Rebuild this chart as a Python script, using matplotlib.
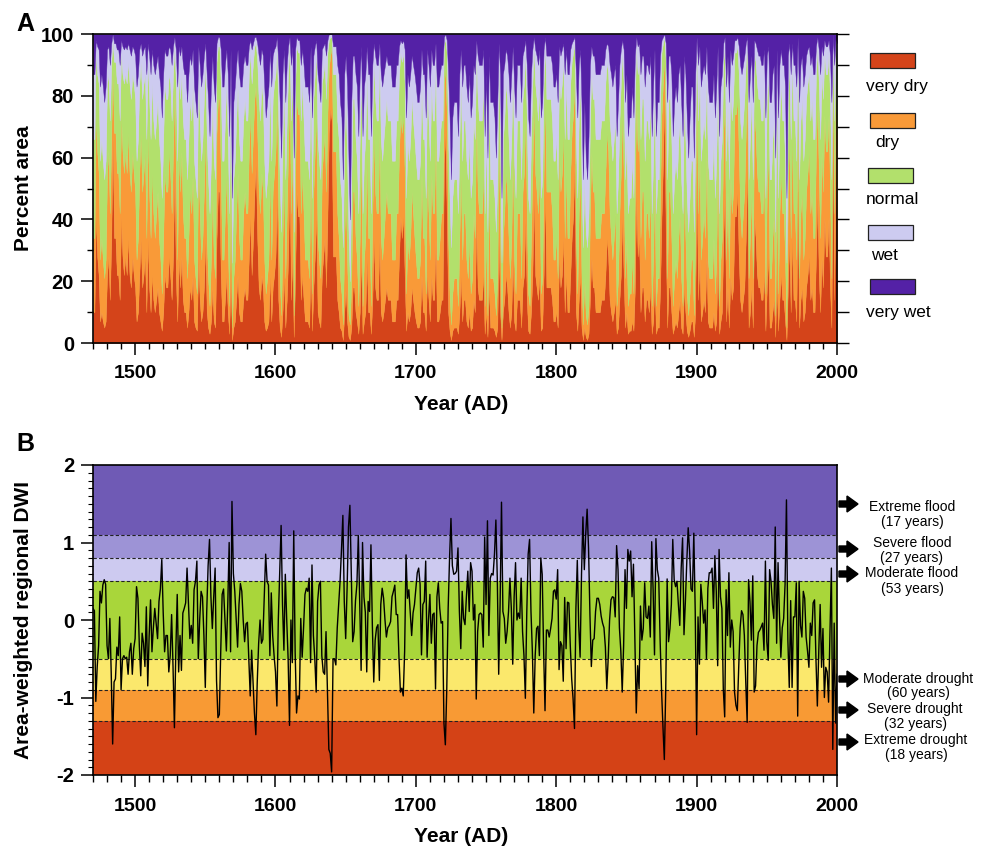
import numpy as np
import matplotlib
matplotlib.use('Agg')
import matplotlib.pyplot as plt
from matplotlib.patches import Rectangle, FancyArrow
from matplotlib.ticker import MultipleLocator

plt.rcParams['font.family'] = ['Liberation Sans', 'DejaVu Sans']
plt.rcParams['font.weight'] = 'bold'
plt.rcParams['axes.unicode_minus'] = False

START_YEAR = 1470

# Area-weighted regional DWI, one value per year (1470-2000), decade rows
dwi = [
    0.15, 0.12, -1.05, -0.6, -0.33, 0.37, 0.22, 0.45, 0.52, 0.46,
    -0.33, -0.5, 0.02, -0.7, -1.6, -0.8, -0.76, -0.35, -0.46, 0.04,
    -0.9, -0.5, -0.46, -0.5, -0.48, -0.7, -0.41, -0.3, -0.7, -0.37,
    -0.24, 0.43, 0.28, -0.33, -0.72, -0.17, -0.3, -0.6, 0.17, -0.85,
    -0.2, 0.26, -0.41, -0.1, 0.15, -0.05, -0.24, 0.24, 0.4, 0.78,
    0.1, -0.41, -0.2, -0.2, -0.67, -0.46, 0.07, -0.6, -1.39, -0.4,
    0.33, -0.67, -0.2, -0.65, 0.09, 0.15, 0.22, 0.67, 0.2, -0.24,
    -0.07, -0.3, 0.39, 0.5, 0.76, -0.5, 0.0, 0.37, 0.3, -0.2,
    -0.87, 0.1, 0.7, 1.04, 0.3, -0.11, 0.3, 0.67, -0.78, -1.26,
    -1.22, -0.4, 0.33, 0.4, 0.0, -0.4, 0.2, 1.0, -0.41, 1.53,
    0.6, 0.37, 0.0, -0.35, 0.2, 0.47, 0.37, 0.0, -0.28, -0.05,
    -0.03, -0.5, -0.98, -0.39, -0.8, -1.2, -1.48, -0.8, -0.3, 0.0,
    -0.3, -0.25, 0.3, 0.85, 0.5, 0.45, -0.46, 0.35, -0.2, -0.46,
    -0.67, -1.11, 0.0, 0.6, 1.22, 0.2, -0.39, 0.59, 0.0, -0.5,
    -1.36, 0.0, -0.55, 1.15, -0.41, -1.2, -0.98, -1.02, 0.02, -0.48,
    -0.1, 0.33, 0.41, 0.37, 0.54, -0.55, 0.71, -0.2, -0.5, -0.93,
    0.24, 0.45, 0.5, -0.46, -0.67, -0.7, -0.15, -0.9, -1.67, -1.72,
    -1.96, -0.5, -0.5, -0.58, -0.1, 0.2, 0.5, 0.9, 1.35, 0.24,
    -0.24, 0.4, 1.2, 1.48, 0.6, -0.28, -0.15, 0.25, 0.46, 1.09,
    0.2, -0.65, 1.0, 0.3, 0.1, -0.67, 0.24, 0.11, 0.97, -0.07,
    -0.8, -0.26, -0.1, -0.06, -0.78, 0.2, 0.41, 0.28, 0.0, -0.22,
    -0.1, -0.07, -0.02, 0.3, 0.37, 0.45, 0.07, 0.07, -0.5, -0.93,
    -0.88, -0.98, -0.4, 0.84, 0.28, 0.39, 0.1, -0.2, 0.09, 0.2,
    0.41, 0.61, 0.67, 0.46, -0.45, 0.2, 0.24, 0.76, -0.48, 0.0,
    0.33, -0.3, 0.07, 0.09, -0.89, 0.3, 0.48, 0.15, -0.04, -0.02,
    -1.33, -1.61, -0.9, 0.15, 0.8, 1.31, 0.7, 0.59, 0.6, 0.63,
    0.93, 0.11, -0.37, 0.37, 0.02, -0.06, 0.3, 0.63, 0.11, 0.74,
    0.63, 0.0, 0.2, -1.02, -0.15, 0.07, 0.09, 0.07, -0.35, 1.07,
    0.2, 1.28, -0.2, 0.54, 0.6, 0.58, 0.85, 1.29, 0.54, -0.7,
    0.2, 1.52, 0.11, 0.02, -0.3, -0.15, 0.11, 0.54, 0.15, -0.57,
    0.3, 0.74, 0.0, 0.09, 0.02, 0.54, -0.15, -0.46, -1.01, 0.09,
    0.85, 1.04, 0.11, -0.41, -1.2, -0.46, -0.11, -0.08, -0.46, 0.8,
    0.59, -0.39, -1.17, -0.13, -0.13, -0.22, -0.11, 0.02, 0.37, 0.39,
    0.27, 0.65, -0.64, -0.28, -0.33, -0.79, 0.29, -0.37, 0.23, 0.22,
    -0.33, -0.76, -1.02, -1.4, 0.15, 0.77, -0.07, -0.48, 0.59, 1.33,
    0.65, 1.11, 1.43, 0.93, 0.07, -0.6, -0.26, -0.24, 0.11, 0.28,
    0.28, 0.2, 0.05, -0.04, -0.1, -0.35, -0.89, -0.5, 0.0, 0.26,
    0.3, 0.29, 0.04, 0.96, 0.65, -0.1, -0.4, -0.93, -0.33, 0.65,
    0.15, 0.91, 0.76, 0.89, 0.3, 0.72, -0.24, -1.2, -0.59, -0.89,
    0.18, -0.26, -0.11, 0.48, 0.04, 0.02, 0.18, -0.22, 1.01, 0.39,
    -0.45, 1.05, 0.65, 0.54, -0.26, -0.9, -1.37, -1.8, -0.89, 0.53,
    -0.28, -0.11, 0.2, 1.04, 0.52, 0.43, 0.5, 0.2, -0.07, 0.67,
    1.06, -0.19, 0.24, 0.76, 1.19, 0.89, 0.4, 0.37, 1.12, 0.11,
    -1.48, 0.04, -0.57, 0.46, 0.24, -0.04, 0.13, -0.5, 0.41, 0.61,
    0.61, 0.67, 0.15, 0.83, 0.37, -0.59, 0.91, 0.3, 0.15, -0.89,
    -1.25, 0.39, -0.2, 0.61, -0.35, 0.0, -0.15, -0.93, -1.1, -1.17,
    -0.6, -0.1, 0.12, 0.07, -0.2, -0.8, -1.32, 0.52, 0.24, -0.26,
    0.57, -0.93, -0.85, -0.33, -0.16, -0.13, -0.09, -0.04, -0.39, 0.76,
    -0.28, -0.52, 0.65, 0.5, 0.2, 0.02, 1.2, -0.3, 0.74, 0.07,
    -0.48, -0.1, 0.02, 0.46, 1.55, -0.26, -0.87, 0.25, -0.87, 0.04,
    0.04, 0.48, -1.24, 0.5, -0.07, -0.22, 0.37, 0.28, -0.22, -0.4,
    -0.61, -0.04, -0.2, 0.22, 0.26, -0.5, -1.11, -0.41, 0.2, -0.61,
    -0.11, -1.0, -0.61, -0.67, -1.06, -0.15, 0.67, -1.67, -0.04, -1.33,
    -0.7,
]

# Percent area per class (normal = remainder to 100), decade rows
very_dry = [
    10, 10, 41, 28, 22, 7, 10, 7, 5, 7,
    22, 28, 14, 34, 68, 34, 34, 22, 22, 14,
    41, 28, 22, 28, 22, 34, 22, 18, 28, 22,
    18, 7, 10, 22, 34, 18, 22, 28, 10, 34,
    18, 10, 22, 14, 10, 14, 18, 10, 7, 4,
    10, 22, 18, 18, 28, 22, 14, 28, 58, 22,
    7, 28, 18, 28, 14, 10, 10, 5, 10, 18,
    14, 22, 7, 5, 4, 28, 14, 7, 10, 18,
    34, 10, 5, 3, 7, 18, 7, 5, 34, 49,
    49, 22, 7, 7, 14, 22, 10, 3, 22, 1,
    5, 7, 14, 22, 10, 7, 7, 14, 18, 14,
    14, 28, 41, 22, 34, 49, 58, 34, 18, 14,
    22, 18, 7, 4, 5, 7, 22, 7, 18, 22,
    28, 49, 14, 5, 2, 10, 22, 5, 14, 28,
    58, 14, 28, 2, 22, 49, 41, 41, 14, 22,
    14, 7, 7, 7, 5, 28, 4, 18, 28, 41,
    10, 7, 5, 22, 28, 34, 18, 41, 68, 76,
    72, 28, 28, 28, 14, 10, 5, 4, 1, 10,
    18, 7, 2, 1, 5, 18, 18, 10, 7, 3,
    10, 28, 3, 7, 10, 28, 10, 10, 3, 14,
    34, 18, 14, 14, 34, 10, 7, 10, 14, 18,
    14, 14, 14, 7, 7, 7, 14, 14, 28, 41,
    34, 41, 22, 4, 10, 7, 10, 18, 14, 10,
    7, 5, 5, 7, 22, 10, 10, 4, 22, 14,
    7, 22, 14, 14, 34, 7, 7, 10, 14, 14,
    58, 68, 41, 10, 4, 1, 4, 5, 5, 5,
    3, 10, 22, 7, 14, 14, 7, 5, 10, 4,
    5, 14, 10, 41, 18, 14, 14, 14, 22, 3,
    10, 2, 18, 5, 5, 5, 4, 2, 5, 34,
    10, 1, 10, 14, 22, 18, 10, 5, 10, 28,
    7, 4, 14, 14, 14, 5, 18, 22, 41, 14,
    4, 3, 10, 22, 49, 22, 18, 14, 22, 4,
    5, 22, 49, 18, 18, 18, 18, 14, 7, 7,
    10, 5, 28, 18, 22, 34, 10, 22, 10, 10,
    22, 34, 41, 58, 10, 4, 14, 22, 5, 1,
    5, 2, 1, 3, 14, 28, 18, 18, 10, 10,
    10, 10, 14, 14, 14, 22, 34, 28, 14, 10,
    7, 10, 14, 3, 5, 14, 22, 41, 22, 5,
    10, 3, 4, 4, 7, 4, 18, 49, 28, 34,
    10, 18, 18, 7, 14, 14, 10, 18, 3, 7,
    22, 3, 5, 5, 18, 41, 58, 80, 34, 5,
    18, 18, 10, 3, 5, 7, 5, 10, 14, 5,
    3, 18, 10, 4, 2, 4, 7, 7, 2, 10,
    58, 14, 28, 7, 10, 14, 10, 28, 7, 5,
    5, 5, 10, 4, 7, 28, 3, 7, 10, 34,
    49, 7, 18, 5, 22, 14, 18, 41, 41, 49,
    28, 14, 10, 14, 18, 34, 58, 5, 10, 18,
    5, 41, 34, 22, 18, 18, 14, 14, 22, 4,
    18, 28, 5, 5, 10, 14, 2, 22, 4, 14,
    22, 14, 14, 7, 1, 18, 34, 10, 34, 14,
    14, 7, 49, 5, 14, 18, 7, 10, 18, 22,
    28, 14, 18, 10, 10, 28, 49, 22, 10, 28,
    18, 41, 28, 28, 41, 18, 5, 68, 14, 58,
    34,
]

dry = [
    24, 24, 33, 34, 33, 20, 24, 20, 16, 20,
    33, 34, 28, 34, 21, 34, 34, 33, 33, 28,
    33, 34, 33, 34, 33, 34, 33, 31, 34, 33,
    31, 20, 24, 33, 34, 31, 33, 34, 24, 34,
    31, 24, 33, 28, 24, 28, 31, 24, 20, 12,
    24, 33, 31, 31, 34, 33, 28, 34, 26, 33,
    20, 34, 31, 34, 28, 24, 24, 16, 24, 31,
    28, 33, 20, 16, 12, 34, 28, 20, 24, 31,
    34, 24, 16, 9, 20, 31, 20, 16, 34, 30,
    30, 33, 20, 20, 28, 33, 24, 9, 33, 4,
    16, 20, 28, 33, 24, 20, 20, 28, 31, 28,
    28, 34, 33, 33, 34, 30, 26, 34, 31, 28,
    33, 31, 20, 12, 16, 20, 33, 20, 31, 33,
    34, 30, 28, 16, 7, 24, 33, 16, 28, 34,
    26, 28, 34, 7, 33, 30, 33, 33, 28, 33,
    28, 20, 20, 20, 16, 34, 12, 31, 34, 33,
    24, 20, 16, 33, 34, 34, 31, 33, 21, 17,
    24, 34, 34, 34, 28, 24, 16, 12, 5, 24,
    31, 20, 7, 5, 16, 31, 31, 24, 20, 9,
    24, 34, 9, 20, 24, 34, 24, 24, 9, 28,
    34, 31, 28, 28, 34, 24, 20, 24, 28, 31,
    28, 28, 28, 20, 20, 20, 28, 28, 34, 33,
    34, 33, 33, 12, 24, 20, 24, 31, 28, 24,
    20, 16, 16, 20, 33, 24, 24, 12, 33, 28,
    20, 33, 28, 28, 34, 20, 20, 24, 28, 28,
    26, 21, 33, 24, 12, 5, 12, 16, 16, 16,
    9, 24, 33, 20, 28, 28, 20, 16, 24, 12,
    16, 28, 24, 33, 31, 28, 28, 28, 33, 9,
    24, 7, 31, 16, 16, 16, 12, 7, 16, 34,
    24, 4, 24, 28, 33, 31, 24, 16, 24, 34,
    20, 12, 28, 28, 28, 16, 31, 33, 33, 28,
    12, 9, 24, 33, 30, 33, 31, 28, 33, 12,
    16, 33, 30, 31, 31, 31, 31, 28, 20, 20,
    24, 16, 34, 31, 33, 34, 24, 33, 24, 24,
    33, 34, 33, 26, 24, 12, 28, 33, 16, 5,
    16, 7, 5, 9, 28, 34, 31, 31, 24, 24,
    24, 24, 28, 28, 28, 33, 34, 34, 28, 24,
    20, 24, 28, 9, 16, 28, 33, 33, 33, 16,
    24, 9, 12, 12, 20, 12, 31, 30, 34, 34,
    24, 31, 31, 20, 28, 28, 24, 31, 9, 20,
    33, 9, 16, 16, 31, 33, 26, 13, 34, 16,
    31, 31, 24, 9, 16, 20, 16, 24, 28, 16,
    9, 31, 24, 12, 7, 12, 20, 20, 7, 24,
    26, 28, 34, 20, 24, 28, 24, 34, 20, 16,
    16, 16, 24, 12, 20, 34, 9, 20, 24, 34,
    30, 20, 31, 16, 33, 28, 31, 33, 33, 30,
    34, 28, 24, 28, 31, 34, 26, 16, 24, 31,
    16, 33, 34, 33, 31, 31, 28, 28, 33, 12,
    31, 34, 16, 16, 24, 28, 7, 33, 12, 28,
    33, 28, 28, 20, 4, 31, 34, 24, 34, 28,
    28, 20, 30, 16, 28, 31, 20, 24, 31, 33,
    34, 28, 31, 24, 24, 34, 30, 33, 24, 34,
    31, 33, 34, 34, 33, 31, 16, 21, 28, 26,
    34,
]

wet = [
    21, 21, 4, 9, 11, 24, 21, 24, 25, 24,
    11, 9, 18, 6, 2, 6, 6, 11, 11, 18,
    4, 9, 11, 9, 11, 6, 11, 14, 9, 11,
    14, 24, 21, 11, 6, 14, 11, 9, 21, 6,
    14, 21, 11, 18, 21, 18, 14, 21, 24, 26,
    21, 11, 14, 14, 9, 11, 18, 9, 2, 11,
    24, 9, 14, 9, 18, 21, 21, 25, 21, 14,
    18, 11, 24, 25, 26, 9, 18, 24, 21, 14,
    6, 21, 25, 25, 24, 14, 24, 25, 6, 3,
    3, 11, 24, 24, 18, 11, 21, 25, 11, 21,
    25, 24, 18, 11, 21, 24, 24, 18, 14, 18,
    18, 9, 4, 11, 6, 3, 2, 6, 14, 18,
    11, 14, 24, 26, 25, 24, 11, 24, 14, 11,
    9, 3, 18, 25, 24, 21, 11, 25, 18, 9,
    2, 18, 9, 24, 11, 3, 4, 4, 18, 11,
    18, 24, 24, 24, 25, 9, 26, 14, 9, 4,
    21, 24, 25, 11, 9, 6, 14, 4, 2, 1,
    1, 9, 9, 9, 18, 21, 25, 26, 22, 21,
    14, 24, 24, 20, 25, 14, 14, 21, 24, 25,
    21, 9, 25, 24, 21, 9, 21, 21, 25, 18,
    6, 14, 18, 18, 6, 21, 24, 21, 18, 14,
    18, 18, 18, 24, 24, 24, 18, 18, 9, 4,
    6, 4, 11, 26, 21, 24, 21, 14, 18, 21,
    24, 25, 25, 24, 11, 21, 21, 26, 11, 18,
    24, 11, 18, 18, 6, 24, 24, 21, 18, 18,
    2, 2, 4, 21, 26, 22, 26, 25, 25, 25,
    25, 21, 11, 24, 18, 18, 24, 25, 21, 26,
    25, 18, 21, 4, 14, 18, 18, 18, 11, 25,
    21, 24, 14, 25, 25, 25, 26, 24, 25, 6,
    21, 21, 21, 18, 11, 14, 21, 25, 21, 9,
    24, 26, 18, 18, 18, 25, 14, 11, 4, 18,
    26, 25, 21, 11, 3, 11, 14, 18, 11, 26,
    25, 11, 3, 14, 14, 14, 14, 18, 24, 24,
    21, 25, 9, 14, 11, 6, 21, 11, 21, 21,
    11, 6, 4, 2, 21, 26, 18, 11, 25, 22,
    25, 24, 22, 25, 18, 9, 14, 14, 21, 21,
    21, 21, 18, 18, 18, 11, 6, 9, 18, 21,
    24, 21, 18, 25, 25, 18, 11, 4, 11, 25,
    21, 25, 26, 26, 24, 26, 14, 3, 9, 6,
    21, 14, 14, 24, 18, 18, 21, 14, 25, 24,
    11, 25, 25, 25, 14, 4, 2, 1, 6, 25,
    14, 14, 21, 25, 25, 24, 25, 21, 18, 25,
    25, 14, 21, 26, 24, 26, 24, 24, 24, 21,
    2, 18, 9, 24, 21, 18, 21, 9, 24, 25,
    25, 25, 21, 26, 24, 9, 25, 24, 21, 6,
    3, 24, 14, 25, 11, 18, 14, 4, 4, 3,
    9, 18, 21, 18, 14, 6, 2, 25, 21, 14,
    25, 4, 6, 11, 14, 14, 18, 18, 11, 26,
    14, 9, 25, 25, 21, 18, 24, 11, 26, 18,
    11, 18, 18, 24, 21, 14, 6, 21, 6, 18,
    18, 24, 3, 25, 18, 14, 24, 21, 14, 11,
    9, 18, 14, 21, 21, 9, 3, 11, 21, 9,
    14, 4, 9, 9, 4, 14, 25, 2, 18, 2,
    6,
]

very_wet = [
    13, 13, 2, 4, 5, 17, 13, 17, 22, 17,
    5, 4, 10, 3, 0, 3, 3, 5, 5, 10,
    2, 4, 5, 4, 5, 3, 5, 7, 4, 5,
    7, 17, 13, 5, 3, 7, 5, 4, 13, 3,
    7, 13, 5, 10, 13, 10, 7, 13, 17, 27,
    13, 5, 7, 7, 4, 5, 10, 4, 1, 5,
    17, 4, 7, 4, 10, 13, 13, 22, 13, 7,
    10, 5, 17, 22, 27, 4, 10, 17, 13, 7,
    3, 13, 22, 33, 17, 7, 17, 22, 3, 1,
    1, 5, 17, 17, 10, 5, 13, 33, 5, 53,
    22, 17, 10, 5, 13, 17, 17, 10, 7, 10,
    10, 4, 2, 5, 3, 1, 1, 3, 7, 10,
    5, 7, 17, 27, 22, 17, 5, 17, 7, 5,
    4, 1, 10, 22, 40, 13, 5, 22, 10, 4,
    1, 10, 4, 40, 5, 1, 2, 2, 10, 5,
    10, 17, 17, 17, 22, 4, 27, 7, 4, 2,
    13, 17, 22, 5, 4, 3, 7, 2, 0, 0,
    0, 4, 4, 4, 10, 13, 22, 27, 47, 13,
    7, 17, 40, 60, 22, 7, 7, 13, 17, 33,
    13, 4, 33, 17, 13, 4, 13, 13, 33, 10,
    3, 7, 10, 10, 3, 13, 17, 13, 10, 7,
    10, 10, 10, 17, 17, 17, 10, 10, 4, 2,
    3, 2, 5, 27, 13, 17, 13, 7, 10, 13,
    17, 22, 22, 17, 5, 13, 13, 27, 5, 10,
    17, 5, 10, 10, 3, 17, 17, 13, 10, 10,
    1, 0, 2, 13, 27, 47, 27, 22, 22, 22,
    33, 13, 5, 17, 10, 10, 17, 22, 13, 27,
    22, 10, 13, 2, 7, 10, 10, 10, 5, 33,
    13, 40, 7, 22, 22, 22, 27, 40, 22, 3,
    13, 53, 13, 10, 5, 7, 13, 22, 13, 4,
    17, 27, 10, 10, 10, 22, 7, 5, 2, 10,
    27, 33, 13, 5, 1, 5, 7, 10, 5, 27,
    22, 5, 1, 7, 7, 7, 7, 10, 17, 17,
    13, 22, 4, 7, 5, 3, 13, 5, 13, 13,
    5, 3, 2, 1, 13, 27, 10, 5, 22, 47,
    22, 40, 47, 33, 10, 4, 7, 7, 13, 13,
    13, 13, 10, 10, 10, 5, 3, 4, 10, 13,
    17, 13, 10, 33, 22, 10, 5, 2, 5, 22,
    13, 33, 27, 27, 17, 27, 7, 1, 4, 3,
    13, 7, 7, 17, 10, 10, 13, 7, 33, 17,
    5, 33, 22, 22, 7, 2, 1, 0, 3, 22,
    7, 7, 13, 33, 22, 17, 22, 13, 10, 22,
    33, 7, 13, 27, 40, 27, 17, 17, 40, 13,
    1, 10, 4, 17, 13, 10, 13, 4, 17, 22,
    22, 22, 13, 27, 17, 4, 33, 17, 13, 3,
    1, 17, 7, 22, 5, 10, 7, 2, 2, 1,
    4, 10, 13, 10, 7, 3, 1, 22, 13, 7,
    22, 2, 3, 5, 7, 7, 10, 10, 5, 27,
    7, 4, 22, 22, 13, 10, 40, 5, 27, 10,
    5, 10, 10, 17, 53, 7, 3, 13, 3, 10,
    10, 17, 1, 22, 10, 7, 17, 13, 7, 5,
    4, 10, 7, 13, 13, 4, 1, 5, 13, 4,
    7, 2, 4, 4, 2, 7, 22, 0, 10, 1,
    3,
]

class_labels = ['very dry', 'dry', 'normal', 'wet', 'very wet']
class_colors = ['#d4441a', '#f99a38', '#b2e06c', '#cdcbf0', '#5421a6']

# DWI category thresholds and band colours (panel B)
band_edges = [-2.0, -1.3, -0.9, -0.5, 0.5, 0.8, 1.1, 2.0]
band_colors = ['#d44216', '#f89a34', '#fbe86c', '#a9d63a', '#cdcaf0', '#9d93d6', '#6f5ab5']
category_names = ['Extreme flood', 'Severe flood', 'Moderate flood',
                  'Moderate drought', 'Severe drought', 'Extreme drought']
category_counts = [17, 27, 53, 60, 32, 18]

n = len(dwi)
for arr in (very_dry, dry, wet, very_wet):
    assert len(arr) == n, len(arr)
years = np.arange(START_YEAR, START_YEAR + n)
vd = np.array(very_dry, float)
dr = np.array(dry, float)
wt = np.array(wet, float)
vw = np.array(very_wet, float)
nm = 100.0 - (vd + dr + wt + vw)

W, H = 982, 848
fig = plt.figure(figsize=(W / 100, H / 100), dpi=100)


def fx(px):
    return px / W


def fy(py):
    return 1 - py / H


PT = 0.72  # points per pixel

# ---------------- Panel A ----------------
axA = fig.add_axes([fx(93), fy(343), fx(837) - fx(93), fy(34) - fy(343)])
polys = axA.stackplot(years, vd, dr, nm, wt, vw, colors=class_colors, linewidth=0)
for p, c in zip(polys, class_colors):
    p.set_edgecolor(c)
    p.set_linewidth(0.3)
axA.set_xlim(1470, 2000)
axA.set_ylim(0, 100)
axA.xaxis.set_major_locator(MultipleLocator(100))
axA.xaxis.set_minor_locator(MultipleLocator(10))
axA.yaxis.set_major_locator(MultipleLocator(20))
axA.yaxis.set_minor_locator(MultipleLocator(10))
axA.tick_params(axis='both', which='major', direction='out', length=12 * PT, width=1.1, labelsize=14)
axA.tick_params(axis='y', which='major', labelsize=14.5)
axA.tick_params(axis='both', which='minor', direction='out', length=6 * PT, width=1.0)
axA.tick_params(axis='x', which='major', pad=7)
axA.tick_params(axis='y', which='major', pad=5)
for s in axA.spines.values():
    s.set_linewidth(1.2)
axA.set_ylabel('Percent area', fontsize=15, fontweight='bold')
axA.yaxis.set_label_coords(-0.081, 0.5)
axA.set_xlabel('Year (AD)', fontsize=15, fontweight='bold')
axA.xaxis.set_label_coords(0.495, -0.168)

twA = axA.twinx()
twA.set_ylim(0, 100)
twA.yaxis.set_major_locator(MultipleLocator(10))
twA.tick_params(axis='y', which='major', direction='out', length=12 * PT, width=1.0, labelright=False)
twA.tick_params(axis='y', which='minor', right=False)
for s in twA.spines.values():
    s.set_visible(False)

fig.text(fx(16), fy(12), 'A', fontsize=18, fontweight='bold', ha='left', va='top')

# legend (patch above label)
leg_items = [
    (870, 53, 866, 86),
    (870, 113, 875, 142),
    (868, 168, 866, 200),
    (868, 225, 871, 256),
    (870, 279, 866, 313),
]
for (px, py, tx, ty), lab, col in zip(leg_items, class_labels, class_colors):
    fig.add_artist(Rectangle((fx(px), fy(py + 15)), 45 / W, 15 / H,
                             transform=fig.transFigure, facecolor=col,
                             edgecolor='#222222', linewidth=0.9))
    fig.text(fx(tx), fy(ty), lab, fontsize=12.5, fontweight='normal', ha='left', va='center')

# ---------------- Panel B ----------------
axB = fig.add_axes([fx(93), fy(775), fx(837) - fx(93), fy(465) - fy(775)])
for lo, hi, col in zip(band_edges[:-1], band_edges[1:], band_colors):
    axB.axhspan(lo, hi, color=col, lw=0, zorder=0)
for yv in band_edges[1:-1]:
    axB.axhline(yv, color='#222222', lw=0.8, ls=(0, (3, 2)), zorder=1)
axB.plot(years, dwi, color='black', lw=1.0, zorder=2)
axB.set_xlim(1470, 2000)
axB.set_ylim(-2, 2)
axB.xaxis.set_major_locator(MultipleLocator(100))
axB.xaxis.set_minor_locator(MultipleLocator(10))
axB.yaxis.set_major_locator(MultipleLocator(1))
axB.yaxis.set_minor_locator(MultipleLocator(0.1))
axB.tick_params(axis='both', which='major', direction='out', length=12 * PT, width=1.1, labelsize=14)
axB.tick_params(axis='y', which='major', labelsize=14.5)
axB.tick_params(axis='x', which='minor', direction='out', length=7 * PT, width=1.0)
axB.tick_params(axis='y', which='minor', direction='out', length=5 * PT, width=0.8)
axB.tick_params(axis='x', which='major', pad=8)
axB.tick_params(axis='y', which='major', pad=5)
for s in axB.spines.values():
    s.set_linewidth(1.2)
axB.set_ylabel('Area-weighted regional DWI', fontsize=15, fontweight='bold')
axB.yaxis.set_label_coords(-0.081, 0.5)
axB.set_xlabel('Year (AD)', fontsize=15, fontweight='bold')
axB.xaxis.set_label_coords(0.495, -0.168)

fig.text(fx(16), fy(432), 'B', fontsize=18, fontweight='bold', ha='left', va='top')

# category arrows and labels
arrow_y = [504, 549, 574, 679, 710, 742]
text_pos = [(912, 507, 522), (912, 543, 558), (912, 573, 589),
            (918, 679, 693), (915, 709, 724), (916, 740, 755)]
for ay, (tx, t1, t2), name, cnt in zip(arrow_y, text_pos, category_names, category_counts):
    fig.add_artist(FancyArrow(839 / 100, (H - ay) / 100, 0.19, 0,
                              width=0.06, head_width=0.16, head_length=0.11,
                              length_includes_head=True, color='black',
                              transform=fig.dpi_scale_trans))
    fig.text(fx(tx), fy(t1), name, fontsize=10, fontweight='normal', ha='center', va='center')
    fig.text(fx(tx), fy(t2), '(%d years)' % cnt, fontsize=10, fontweight='normal', ha='center', va='center')

fig.savefig('out.png', dpi=100)
